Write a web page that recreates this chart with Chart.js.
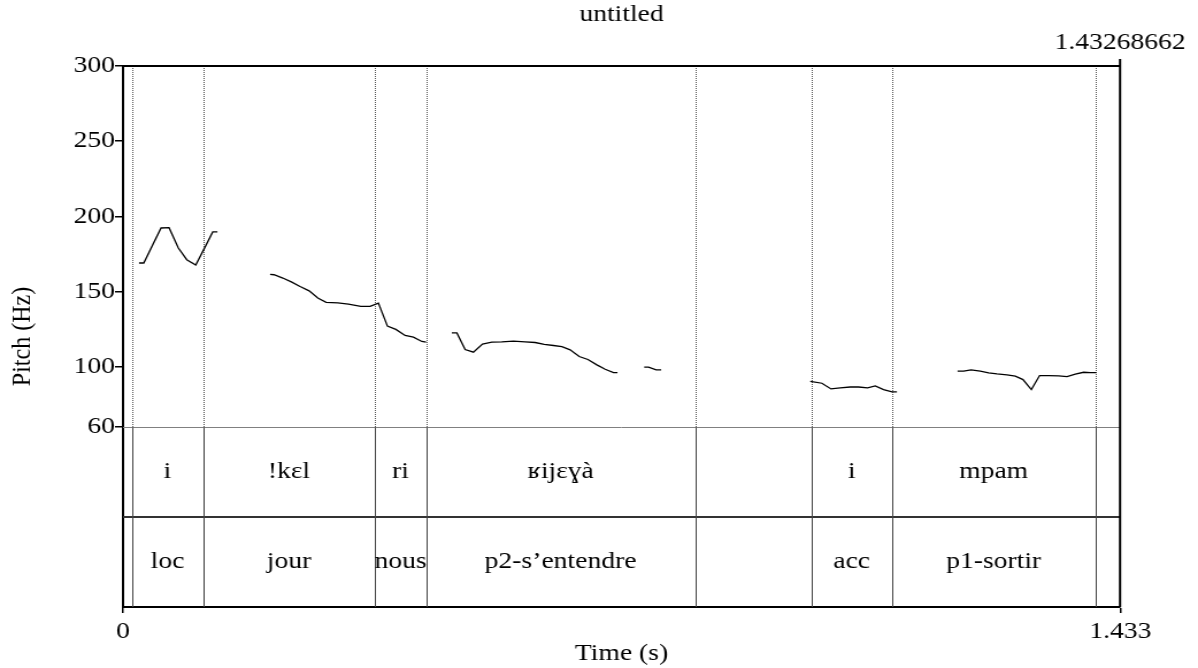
<!DOCTYPE html>
<html>
<head>
<meta charset="utf-8">
<title>untitled</title>
<script src="https://cdn.jsdelivr.net/npm/chart.js@4.4.1/dist/chart.umd.min.js"></script>
<style>
    html, body { margin: 0; padding: 0; background: #fff; }
</style>
</head>
<body>
<!-- Praat pictures come out a bit wide: the 1042px bitmap is shown 1198px wide -->
<canvas id="pitchChart" width="1042" height="668" style="display:block;width:1198px;height:668px"></canvas>
<script>
// Pitch contour (time in s, pitch in Hz).
// A null pitch breaks the line where the signal is unvoiced.
const pitchTimes = [
    0.0230, 0.0298, 0.0546, 0.0661, 0.0795, 0.0916, 0.1045, 0.1154, 0.1289, 0.1356,
    0.17,
    0.2113, 0.2170, 0.2296, 0.2425, 0.2544, 0.2674, 0.2799, 0.2918, 0.3086, 0.3239,
    0.3417, 0.3550, 0.3670, 0.3799, 0.3920, 0.4053, 0.4173, 0.4294, 0.4355,
    0.45,
    0.4725, 0.4797, 0.4916, 0.5035, 0.5165, 0.5300, 0.5443, 0.5610, 0.5778, 0.5922,
    0.6052, 0.6185, 0.6306, 0.6425, 0.6555, 0.6680, 0.6809, 0.6928, 0.7048, 0.7105,
    0.73,
    0.7489, 0.7551, 0.7661, 0.7733,
    0.88,
    0.9875, 1.0043, 1.0173, 1.0306, 1.0450, 1.0569, 1.0699, 1.0809, 1.0929, 1.1049, 1.1121,
    1.15,
    1.1992, 1.2079, 1.2185, 1.2319, 1.2438, 1.2558, 1.2702, 1.2822, 1.2932, 1.3052,
    1.3171, 1.3300, 1.3444, 1.3565, 1.3684, 1.3803, 1.3900, 1.3986
];
const pitchValues = [
    168.9, 168.9, 192.2, 192.4, 178.9, 171.1, 167.6, 177.3, 189.6, 189.6,
    null,
    161.3, 161.1, 158.9, 156.2, 153.3, 150.4, 145.6, 142.7, 142.4, 141.6,
    140.0, 140.0, 142.2, 126.9, 124.7, 120.7, 119.6, 116.7, 116.2,
    null,
    122.4, 122.4, 111.3, 109.6, 114.9, 116.2, 116.4, 116.9, 116.4, 116.0,
    114.7, 114.0, 113.3, 111.1, 106.7, 104.7, 101.1, 98.2, 96.0, 96.0,
    null,
    99.6, 99.6, 97.8, 97.8,
    null,
    90.2, 88.9, 85.1, 85.8, 86.4, 86.4, 85.8, 87.1, 84.7, 83.1, 83.1,
    null,
    96.9, 96.9, 97.8, 96.9, 95.8, 95.1, 94.4, 93.6, 91.3, 84.7,
    94.0, 94.0, 93.8, 93.3, 94.9, 96.2, 96.0, 96.0
];

// TextGrid: both tiers share the same interval boundaries
const tierBounds = [0, 0.0129, 0.1150, 0.3620, 0.4355, 0.8220, 0.9890, 1.1050, 1.3970, 1.43268662];
const tier1Labels = ['', 'i', '!kɛl', 'ri', 'ʁijɛɣà', '', 'i', 'mpam', ''];
const tier2Labels = ['', 'loc', 'jour', 'nous', 'p2-s’entendre', '', 'acc', 'p1-sortir', ''];

// Axes
const yTicks = [60, 100, 150, 200, 250, 300];
const xTicks = [0, 1.433];
const totalDuration = 1.43268662;

const FONT = "'Liberation Serif', 'Times New Roman', serif";
const textFont = { family: FONT, size: 24, weight: 'normal' };

// Praat-style picture: tiers under the pitch curve, frame, title and duration label
const tierPlugin = {
    id: 'tierPlugin',
    beforeDatasetsDraw(chart) {
        const { ctx, chartArea, scales: { x, y } } = chart;
        const yPitchBottom = Math.round(y.getPixelForValue(60)) + 0.5;
        const yTierMid = Math.round(y.getPixelForValue(0));
        const yBottom = y.getPixelForValue(-60);

        ctx.save();
        ctx.strokeStyle = '#808080';
        ctx.lineWidth = 1;
        ctx.beginPath();
        ctx.moveTo(chartArea.left, yPitchBottom);
        ctx.lineTo(chartArea.right, yPitchBottom);
        ctx.stroke();

        ctx.strokeStyle = '#333';
        ctx.lineWidth = 2;
        ctx.beginPath();
        ctx.moveTo(chartArea.left, yTierMid);
        ctx.lineTo(chartArea.right, yTierMid);
        ctx.stroke();

        // boundaries: dotted over the pitch, solid through the tiers
        tierBounds.slice(1, -1).forEach(t => {
            const px = Math.round(x.getPixelForValue(t)) + 0.5;
            ctx.lineWidth = 1;
            ctx.strokeStyle = '#555';
            ctx.setLineDash([1, 1]);
            ctx.beginPath();
            ctx.moveTo(px, chartArea.top);
            ctx.lineTo(px, yPitchBottom);
            ctx.stroke();
            ctx.setLineDash([]);
            ctx.strokeStyle = '#444';
            ctx.beginPath();
            ctx.moveTo(px, yPitchBottom);
            ctx.lineTo(px, yBottom);
            ctx.stroke();
        });

        // interval labels
        ctx.fillStyle = '#000';
        ctx.font = `${textFont.size}px ${FONT}`;
        ctx.textAlign = 'center';
        ctx.textBaseline = 'middle';
        for (let i = 0; i < tierBounds.length - 1; i++) {
            const cx = x.getPixelForValue((tierBounds[i] + tierBounds[i + 1]) / 2);
            if (tier1Labels[i]) ctx.fillText(tier1Labels[i], cx, y.getPixelForValue(30));
            if (tier2Labels[i]) ctx.fillText(tier2Labels[i], cx, y.getPixelForValue(-30));
        }
        ctx.restore();
    },
    afterDraw(chart) {
        const { ctx, chartArea: { left, right, top } } = chart;
        ctx.save();
        ctx.strokeStyle = '#000';
        ctx.lineWidth = 2;
        ctx.beginPath();
        ctx.moveTo(left, top);
        ctx.lineTo(right, top);
        ctx.moveTo(right, top - 7);
        ctx.lineTo(right, chart.scales.y.getPixelForValue(-60));
        ctx.stroke();

        ctx.fillStyle = '#000';
        ctx.font = `${textFont.size}px ${FONT}`;
        ctx.textAlign = 'center';
        ctx.textBaseline = 'middle';
        ctx.fillText('untitled', (left + right) / 2, 15);
        ctx.fillText(totalDuration.toFixed(8), right, top - 23);
        ctx.restore();
    }
};

const points = pitchTimes.map((t, i) => ({ x: t, y: pitchValues[i] }));

new Chart(document.getElementById('pitchChart'), {
    type: 'line',
    data: {
        datasets: [{
            data: points,
            borderColor: '#000',
            borderWidth: 1.3,
            pointRadius: 0,
            tension: 0,
            spanGaps: false
        }]
    },
    options: {
        responsive: false,
        animation: false,
        layout: { padding: { left: 0, right: 67.8, top: 66, bottom: 0 } },
        plugins: {
            legend: { display: false },
            tooltip: { enabled: false }
        },
        scales: {
            x: {
                type: 'linear',
                min: 0,
                max: totalDuration,
                afterBuildTicks: scale => { scale.ticks = xTicks.map(v => ({ value: v })); },
                afterFit: scale => { scale.height = 61; },
                ticks: {
                    color: '#000',
                    font: textFont,
                    padding: 4,
                    maxRotation: 0,
                    autoSkip: false,
                    callback: v => String(v)
                },
                grid: { drawOnChartArea: false, tickLength: 6, color: '#000', lineWidth: 1.5 },
                border: { display: true, color: '#000', width: 2 },
                title: { display: true, text: 'Time (s)', color: '#000', font: textFont, padding: { top: -3, bottom: 0 } }
            },
            y: {
                min: -60,
                max: 300,
                afterBuildTicks: scale => { scale.ticks = yTicks.map(v => ({ value: v })); },
                afterFit: scale => { scale.width = 107; },
                ticks: { color: '#000', font: textFont, padding: 0 },
                grid: { drawOnChartArea: false, tickLength: 7, color: '#000', lineWidth: 1.5 },
                border: { display: true, color: '#000', width: 2 },
                title: { display: true, text: 'Pitch (Hz)', color: '#000', font: textFont, padding: { top: 5.6, bottom: 0 } }
            }
        }
    },
    plugins: [tierPlugin]
});
</script>
</body>
</html>
